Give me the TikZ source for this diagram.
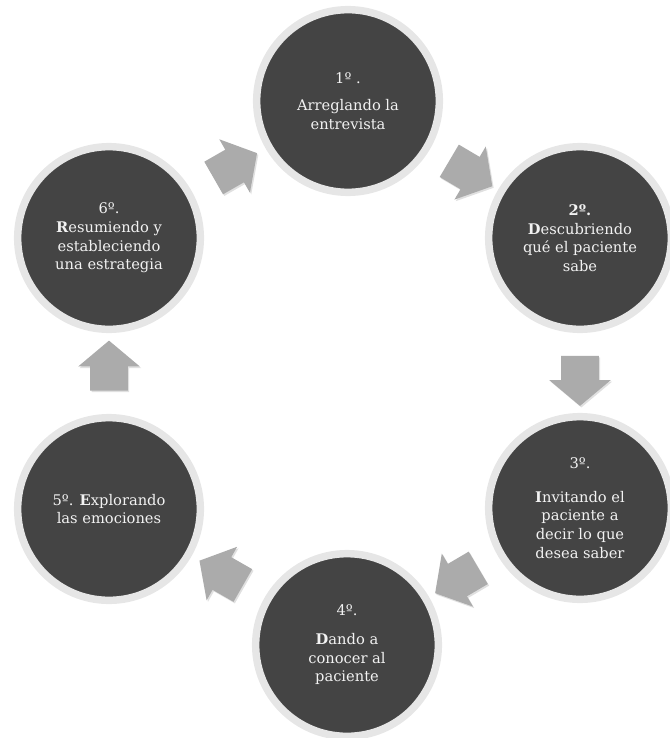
\documentclass[tikz,border=0pt]{standalone}
\usepackage{fontspec}
\setmainfont{DejaVu Serif}
\usepackage{tikz}
\usetikzlibrary{shapes.arrows, shadows}
\usepackage{xcolor}
\definecolor{stepdark}{HTML}{444444}
\definecolor{stepring}{HTML}{E6E6E6}
\definecolor{steptext}{HTML}{F2F2F2}
\definecolor{arrowgray}{HTML}{ABABAB}

\begin{document}
\begin{tikzpicture}[
				x=0.75pt, y=-0.75pt,
				every node/.style={font=\fontsize{11}{14}\selectfont},
				stepcircle/.style={circle, draw=stepring, line width=5.6pt, fill=stepdark, text=steptext, minimum size=137pt, inner sep=0pt, align=center, drop shadow={shadow xshift=1.2pt, shadow yshift=-1.5pt, opacity=0.25, fill=black!60}},
				flowarrow/.style={single arrow, fill=arrowgray, draw=none, minimum height=37.5pt, inner xsep=0pt, inner ysep=13.9pt, single arrow head extend=9pt, single arrow tip angle=100, sloped, allow upside down, drop shadow={shadow xshift=1pt, shadow yshift=-1.2pt, opacity=0.2, fill=black!60}}
			]
			\useasboundingbox (0,0) rectangle (669,738);

			% Steps round the cycle
			\node[stepcircle] (s1) at (348,101) {1º .\\[6.5pt]Arreglando la\\entrevista};
			\node[stepcircle] (s2) at (580,238) {\textbf{2º.}\\\textbf{D}escubriendo\\qué el paciente\\sabe};
			\node[stepcircle] (s3) at (580,508) {3º.\\[11pt]\textbf{I}nvitando el\\paciente a\\decir lo que\\desea saber};
			\node[stepcircle] (s4) at (347,645) {4º.\\[7.5pt]\textbf{D}ando a\\conocer al\\paciente};
			\node[stepcircle] (s5) at (109,509) {5º. \textbf{E}xplorando\\las emociones};
			\node[stepcircle] (s6) at (109,238) {6º.\\\textbf{R}esumiendo y\\estableciendo\\una estrategia};

			% Block arrows between the steps
			\path (s1) -- (s2) node[midway, flowarrow] (a12) {};
			\path (s2) -- (s3) node[midway, flowarrow] (a23) {};
			\path (s3) -- (s4) node[midway, flowarrow] (a34) {};
			\path (s4) -- (s5) node[midway, flowarrow] (a45) {};
			\path (s5) -- (s6) node[midway, flowarrow] (a56) {};
			\path (s6) -- (s1) node[midway, flowarrow] (a61) {};

		\end{tikzpicture}
\end{document}
